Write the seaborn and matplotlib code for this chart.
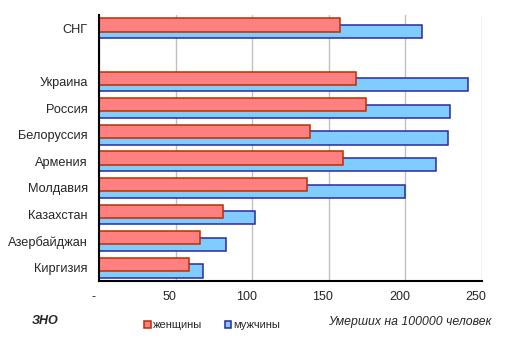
import matplotlib
matplotlib.use("Agg")
import matplotlib.pyplot as plt
import matplotlib.transforms as mtransforms
from matplotlib.patches import Patch
import seaborn as sns
import pandas as pd

categories = ["СНГ", "Украина", "Россия", "Белоруссия", "Армения",
              "Молдавия", "Казахстан", "Азербайджан", "Киргизия"]
women = [157, 168, 174, 138, 159, 136, 81, 66, 59]
men = [211, 241, 229, 228, 220, 200, 102, 83, 68]
series = ["женщины", "мужчины"]
x_ticks = [0, 50, 100, 150, 200, 250]
x_tick_labels = ["-", "50", "100", "150", "200", "250"]

fills = ["#FF8080", "#80CCFF"]
edges = ["#B83000", "#2A2AA0"]

sns.set_style("white")
plt.rcParams["font.family"] = ["Liberation Sans", "DejaVu Sans"]

df = pd.DataFrame({
    "country": categories * 2,
    "value": women + men,
    "sex": [series[0]] * len(categories) + [series[1]] * len(categories),
})
order = [categories[0], " "] + categories[1:]

fig = plt.figure(figsize=(5.15, 3.42), dpi=100)
ax = fig.add_axes([99 / 515, 1 - 281 / 342, (482 - 99) / 515, (281 - 15) / 342])

sns.barplot(data=df, y="country", x="value", hue="sex", order=order,
            hue_order=series, orient="h", width=0.5, gap=-1.0, dodge=True,
            palette=fills, errorbar=None, legend=False, ax=ax, saturation=1)

for i, (container, ec) in enumerate(zip(ax.containers, edges)):
    for p in container:
        p.set_edgecolor(ec)
        p.set_linewidth(1.1)
        p.set_zorder(4 if i == 0 else 3)

ax.set_xlim(0, 250)
ax.set_xticks(x_ticks)
ax.set_xticklabels(x_tick_labels, fontsize=9)
ax.tick_params(axis="x", length=0, pad=7)
ax.tick_params(axis="y", length=0, pad=8, labelsize=9.2)
offset = mtransforms.ScaledTranslation(-6 / 100, 0, fig.dpi_scale_trans)
for lab in ax.get_xticklabels():
    lab.set_transform(lab.get_transform() + offset)

ax.set_xlabel("")
ax.set_ylabel("")
ax.xaxis.grid(True, color="#C0C0C0", linewidth=1.0)
ax.set_axisbelow(True)
for s in ["top", "right"]:
    ax.spines[s].set_visible(False)
for s in ["left", "bottom"]:
    ax.spines[s].set_color("black")
    ax.spines[s].set_linewidth(1.5)
    ax.spines[s].set_zorder(5)

handles = [Patch(facecolor=f, edgecolor=e, linewidth=1.1) for f, e in zip(fills, edges)]
fig.legend(handles, series, loc="center", bbox_to_anchor=(212.5 / 515, 1 - 325.5 / 342),
           ncol=2, frameon=False, fontsize=8, handlelength=0.55, handleheight=0.55,
           handletextpad=0.25, columnspacing=2.0, borderpad=0, borderaxespad=0)

fig.text(31.7 / 515, 1 - 321 / 342, "ЗНО", fontsize=9, fontweight="bold",
         fontstyle="italic", va="center", ha="left")
fig.text(491 / 515, 1 - 321.5 / 342, "Умерших на 100000 человек", fontsize=8.8,
         fontstyle="italic", va="center", ha="right")

fig.savefig("out.png", dpi=100)
